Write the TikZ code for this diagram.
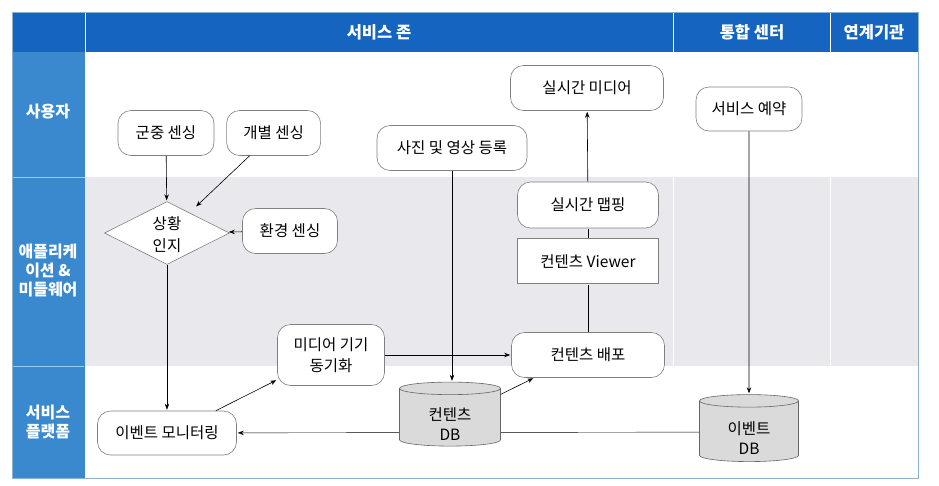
\documentclass[tikz,border=0pt]{standalone}
\usepackage{fontspec}
\setmainfont{Noto Sans CJK KR}
\usepackage[dvipsnames]{xcolor}
\usetikzlibrary{shapes.geometric,positioning,arrows.meta}

\definecolor{HeadBlue}{RGB}{21,101,192}
\definecolor{SideBlue}{RGB}{58,137,206}
\definecolor{SideLine}{RGB}{150,205,240}
\definecolor{LaneGray}{RGB}{233,233,237}
\definecolor{FrameBlue}{RGB}{140,178,208}
\definecolor{DbGray}{RGB}{218,218,218}

\pgfdeclarelayer{lanes}
\pgfdeclarelayer{background}
\pgfsetlayers{lanes,background,main}

\begin{document}
\begin{tikzpicture}[x=1pt,y=-1pt,>={Stealth[length=6pt,width=4.5pt]},shorten >=1pt,line width=0.6pt,
    round node/.style={draw=black!50,fill=white,rounded corners=13pt,minimum height=45pt,inner sep=2pt,align=center,font=\fontsize{15.5}{21}\selectfont},
    box node/.style={draw=black!50,fill=white,minimum height=45pt,inner sep=2pt,font=\fontsize{15.5}{21}\selectfont},
    decision node/.style={diamond,aspect=2,draw=black!50,fill=white,minimum width=125pt,minimum height=63pt,inner sep=0pt,align=center,font=\fontsize{15.5}{22}\selectfont},
    db node/.style={cylinder,shape border rotate=90,aspect=0.28,draw=black!60,fill=DbGray,inner sep=1pt,align=center,font=\fontsize{15.5}{20}\selectfont},
    head label/.style={text=white,font=\fontsize{16.5}{18}\selectfont\bfseries},
    lane label/.style={text=white,align=center,font=\fontsize{16}{19}\selectfont\bfseries}]

    \useasboundingbox (0,0) rectangle (939,485);

    % header and lane labels
    \node[head label] (zone) at (379,32) {서비스 존};
    \node[head label] (center) at (752,32) {통합 센터};
    \node[head label] (agency) at (874,32) {연계기관};
    \node[lane label] (user) at (48,112) {사용자};
    \node[lane label] (app) at (48,271) {애플리케\\이션 \&\\미들웨어};
    \node[lane label] (platform) at (48,422) {서비스\\플랫폼};

    % flow nodes
    \node[round node,minimum width=96pt] (crowd) at (166,133) {군중 센싱};
    \node[round node,minimum width=94pt] (indiv) [right=12pt of crowd] {개별 센싱};
    \node[round node,minimum width=150pt] (photo) at (452,148) {사진 및 영상 등록};
    \node[round node,minimum width=153pt] (media) at (587,88) {실시간 미디어};
    \node[round node,minimum width=106pt,minimum height=44pt] (resv) at (749,109) {서비스 예약};
    \node[decision node] (aware) at (167,233) {\rule{0pt}{17pt}상황\\인지};
    \node[round node,minimum width=95pt] (env) at (290,231) {환경 센싱};
    \node[round node,minimum width=141pt,minimum height=46pt] (mapping) at (588,205) {실시간 맵핑};
    \node[box node,minimum width=141pt] (viewer) [below=10pt of mapping] {컨텐츠 Viewer};
    \node[round node,minimum width=153pt] (deploy) at (588,355) {컨텐츠 배포};
    \node[round node,minimum width=107pt,minimum height=61pt] (sync) at (331,355) {미디어 기기\\동기화};
    \node[round node,minimum width=139pt,minimum height=44pt] (monitor) at (167,433) {이벤트 모니터링};
    \node[db node,minimum width=101pt,minimum height=64pt] (cdb) at (450,418) {\rule{0pt}{24pt}컨텐츠\\DB};
    \node[db node,minimum width=99pt,minimum height=67pt] (evdb) at (749,432) {\rule{0pt}{24pt}이벤트\\DB};

    \path[->]
        (crowd) edge (aware)
        ([xshift=-24pt]indiv.south) edge ([xshift=-3pt,yshift=10pt]aware.north east)
        (env) edge (aware)
        (aware) edge (monitor)
        ([xshift=-21pt]monitor.north east) edge ([yshift=6pt]sync.south west)
        (sync) edge (deploy)
        (photo.south) edge (photo.south |- cdb.north)
        (cdb.25) edge ([xshift=23pt]deploy.south west)
        (mapping) edge (media)
        (resv) edge (evdb)
        ;
    \path[-]
        (deploy) edge (viewer)
        (viewer) edge (mapping)
        ;

    \begin{pgfonlayer}{background}
        \path[->] (evdb) edge (monitor);
    \end{pgfonlayer}

    % swimlanes
    \begin{pgfonlayer}{lanes}
        \fill[LaneGray] (85,177) rectangle (918,366);
        \fill[HeadBlue] (12,12) rectangle (918,52);
        \fill[SideBlue] (12,52) rectangle (85,478);
        \draw[white,line width=1pt] (85,12) -- (85,52) (673,12) -- (673,52) (830,12) -- (830,52)
            (673,177) -- (673,366) (830,177) -- (830,366);
        \draw[SideLine,line width=0.8pt] (12,177) -- (85,177) (12,366) -- (85,366);
        \draw[FrameBlue,line width=0.8pt] (12,12) rectangle (918,478);
    \end{pgfonlayer}
\end{tikzpicture}
\end{document}
